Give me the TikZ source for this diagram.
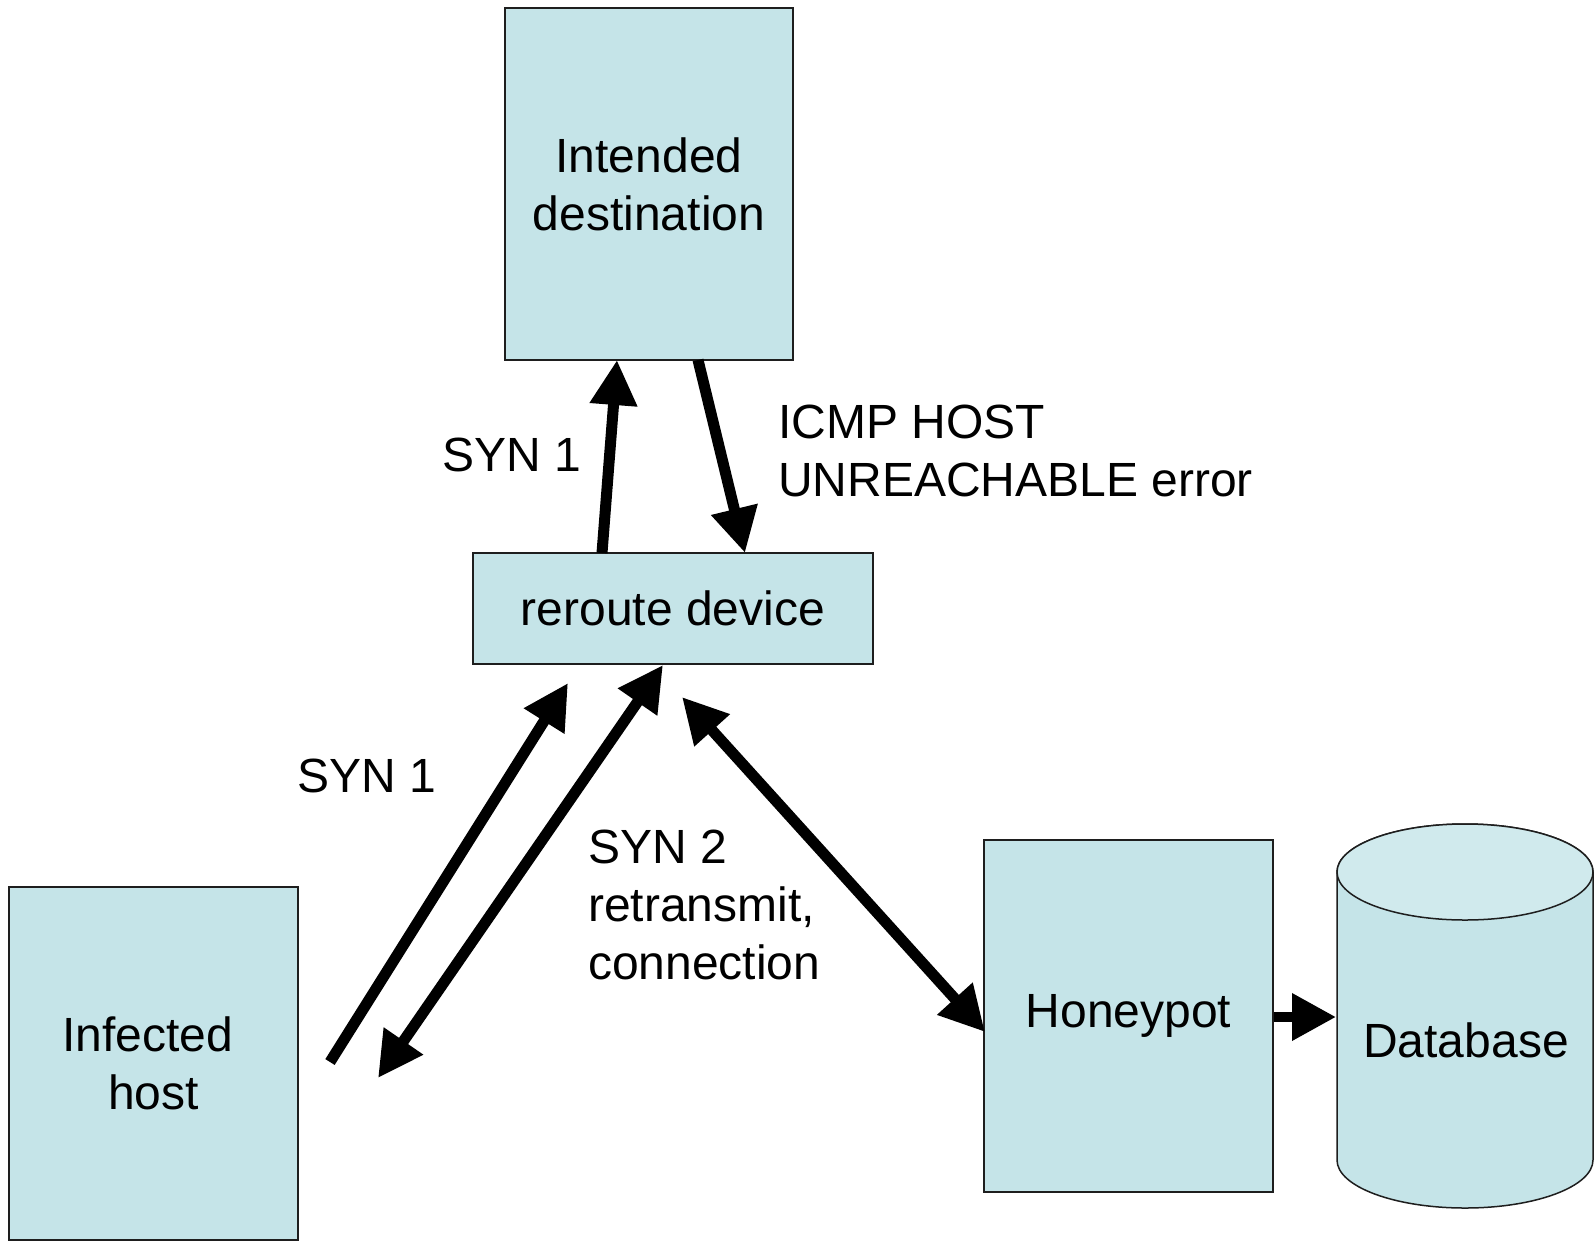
\documentclass[tikz,border=0pt]{standalone}
\usepackage{fontspec}
\setmainfont{Liberation Sans}
\usetikzlibrary{arrows.meta}
\definecolor{boxfill}{RGB}{197,228,232}
\definecolor{topfill}{RGB}{208,234,237}
\definecolor{edge}{RGB}{30,30,30}
\begin{document}
\begin{tikzpicture}[x=1pt,y=-1pt,
  every node/.style={font=\fontsize{48}{58}\selectfont},
  box/.style={draw=edge, line width=1.5pt, fill=boxfill, inner sep=0pt, align=center},
  lbl/.style={inner sep=0pt, align=left, anchor=west},
  fat/.style={line width=11pt, -{Triangle[length=45pt,width=45pt]}},
  fatboth/.style={line width=11pt, {Triangle[length=45pt,width=45pt]}-{Triangle[length=45pt,width=45pt]}},
  slim/.style={line width=10pt, -{Triangle[length=44pt,width=45pt]}}
]
\useasboundingbox (0,0) rectangle (1596,1240);
\fill[white] (0,0) rectangle (1596,1240);

% boxes
\node[box, minimum width=288pt, minimum height=352pt] (dest) at (649,184) {Intended\\destination};
\node[box, minimum width=400pt, minimum height=111pt] (reroute) at (673,608.5) {reroute device};
\node[box, minimum width=289pt, minimum height=353pt, text width=289pt] (infected) at (153.5,1063.5) {\hspace*{-12pt}Infected\\host};
\node[box, minimum width=289pt, minimum height=352pt] (honeypot) at (1128.5,1016) {Honeypot};

% database cylinder
\filldraw[draw=edge, line width=1.5pt, fill=boxfill]
  (1337,872) -- (1337,1160) arc[start angle=180, end angle=360, x radius=128pt, y radius=48pt]
  -- (1593,872) arc[start angle=0, end angle=180, x radius=128pt, y radius=48pt] -- cycle;
\filldraw[draw=edge, line width=1.5pt, fill=topfill] (1465,872) ellipse[x radius=128pt, y radius=48pt];
\node (db) at (1466,1040) {Database};

% connector end points
\coordinate (s1a) at (602,553);
\coordinate (s1b) at (617,360);
\coordinate (ic1) at (698,360);
\coordinate (ic2) at (745,553);
\coordinate (d1a) at (330,1062);
\coordinate (d1b) at (568,683);
\coordinate (d2a) at (378,1078);
\coordinate (d2b) at (663,665);
\coordinate (d3a) at (682,697);
\coordinate (d3b) at (985,1032);
\coordinate (hp) at (honeypot.east |- 0,1017);
\coordinate (dbl) at (1336,1017);

% connectors
\draw[fat] (s1a) -- (s1b);
\draw[fat] (ic1) -- (ic2);
\draw[fat] (d1a) -- (d1b);
\draw[fatboth] (d2a) -- (d2b);
\draw[fatboth] (d3a) -- (d3b);
\draw[slim] (hp) -- (dbl);

% labels
\node[lbl] (l1) at (442,455) {SYN 1};
\node[lbl] (l2) at (778,451) {ICMP HOST\\UNREACHABLE error};
\node[lbl] (l3) at (297,776) {SYN 1};
\node[lbl] (l4) at (588,905) {SYN 2\\retransmit,\\connection};
\end{tikzpicture}
\end{document}
